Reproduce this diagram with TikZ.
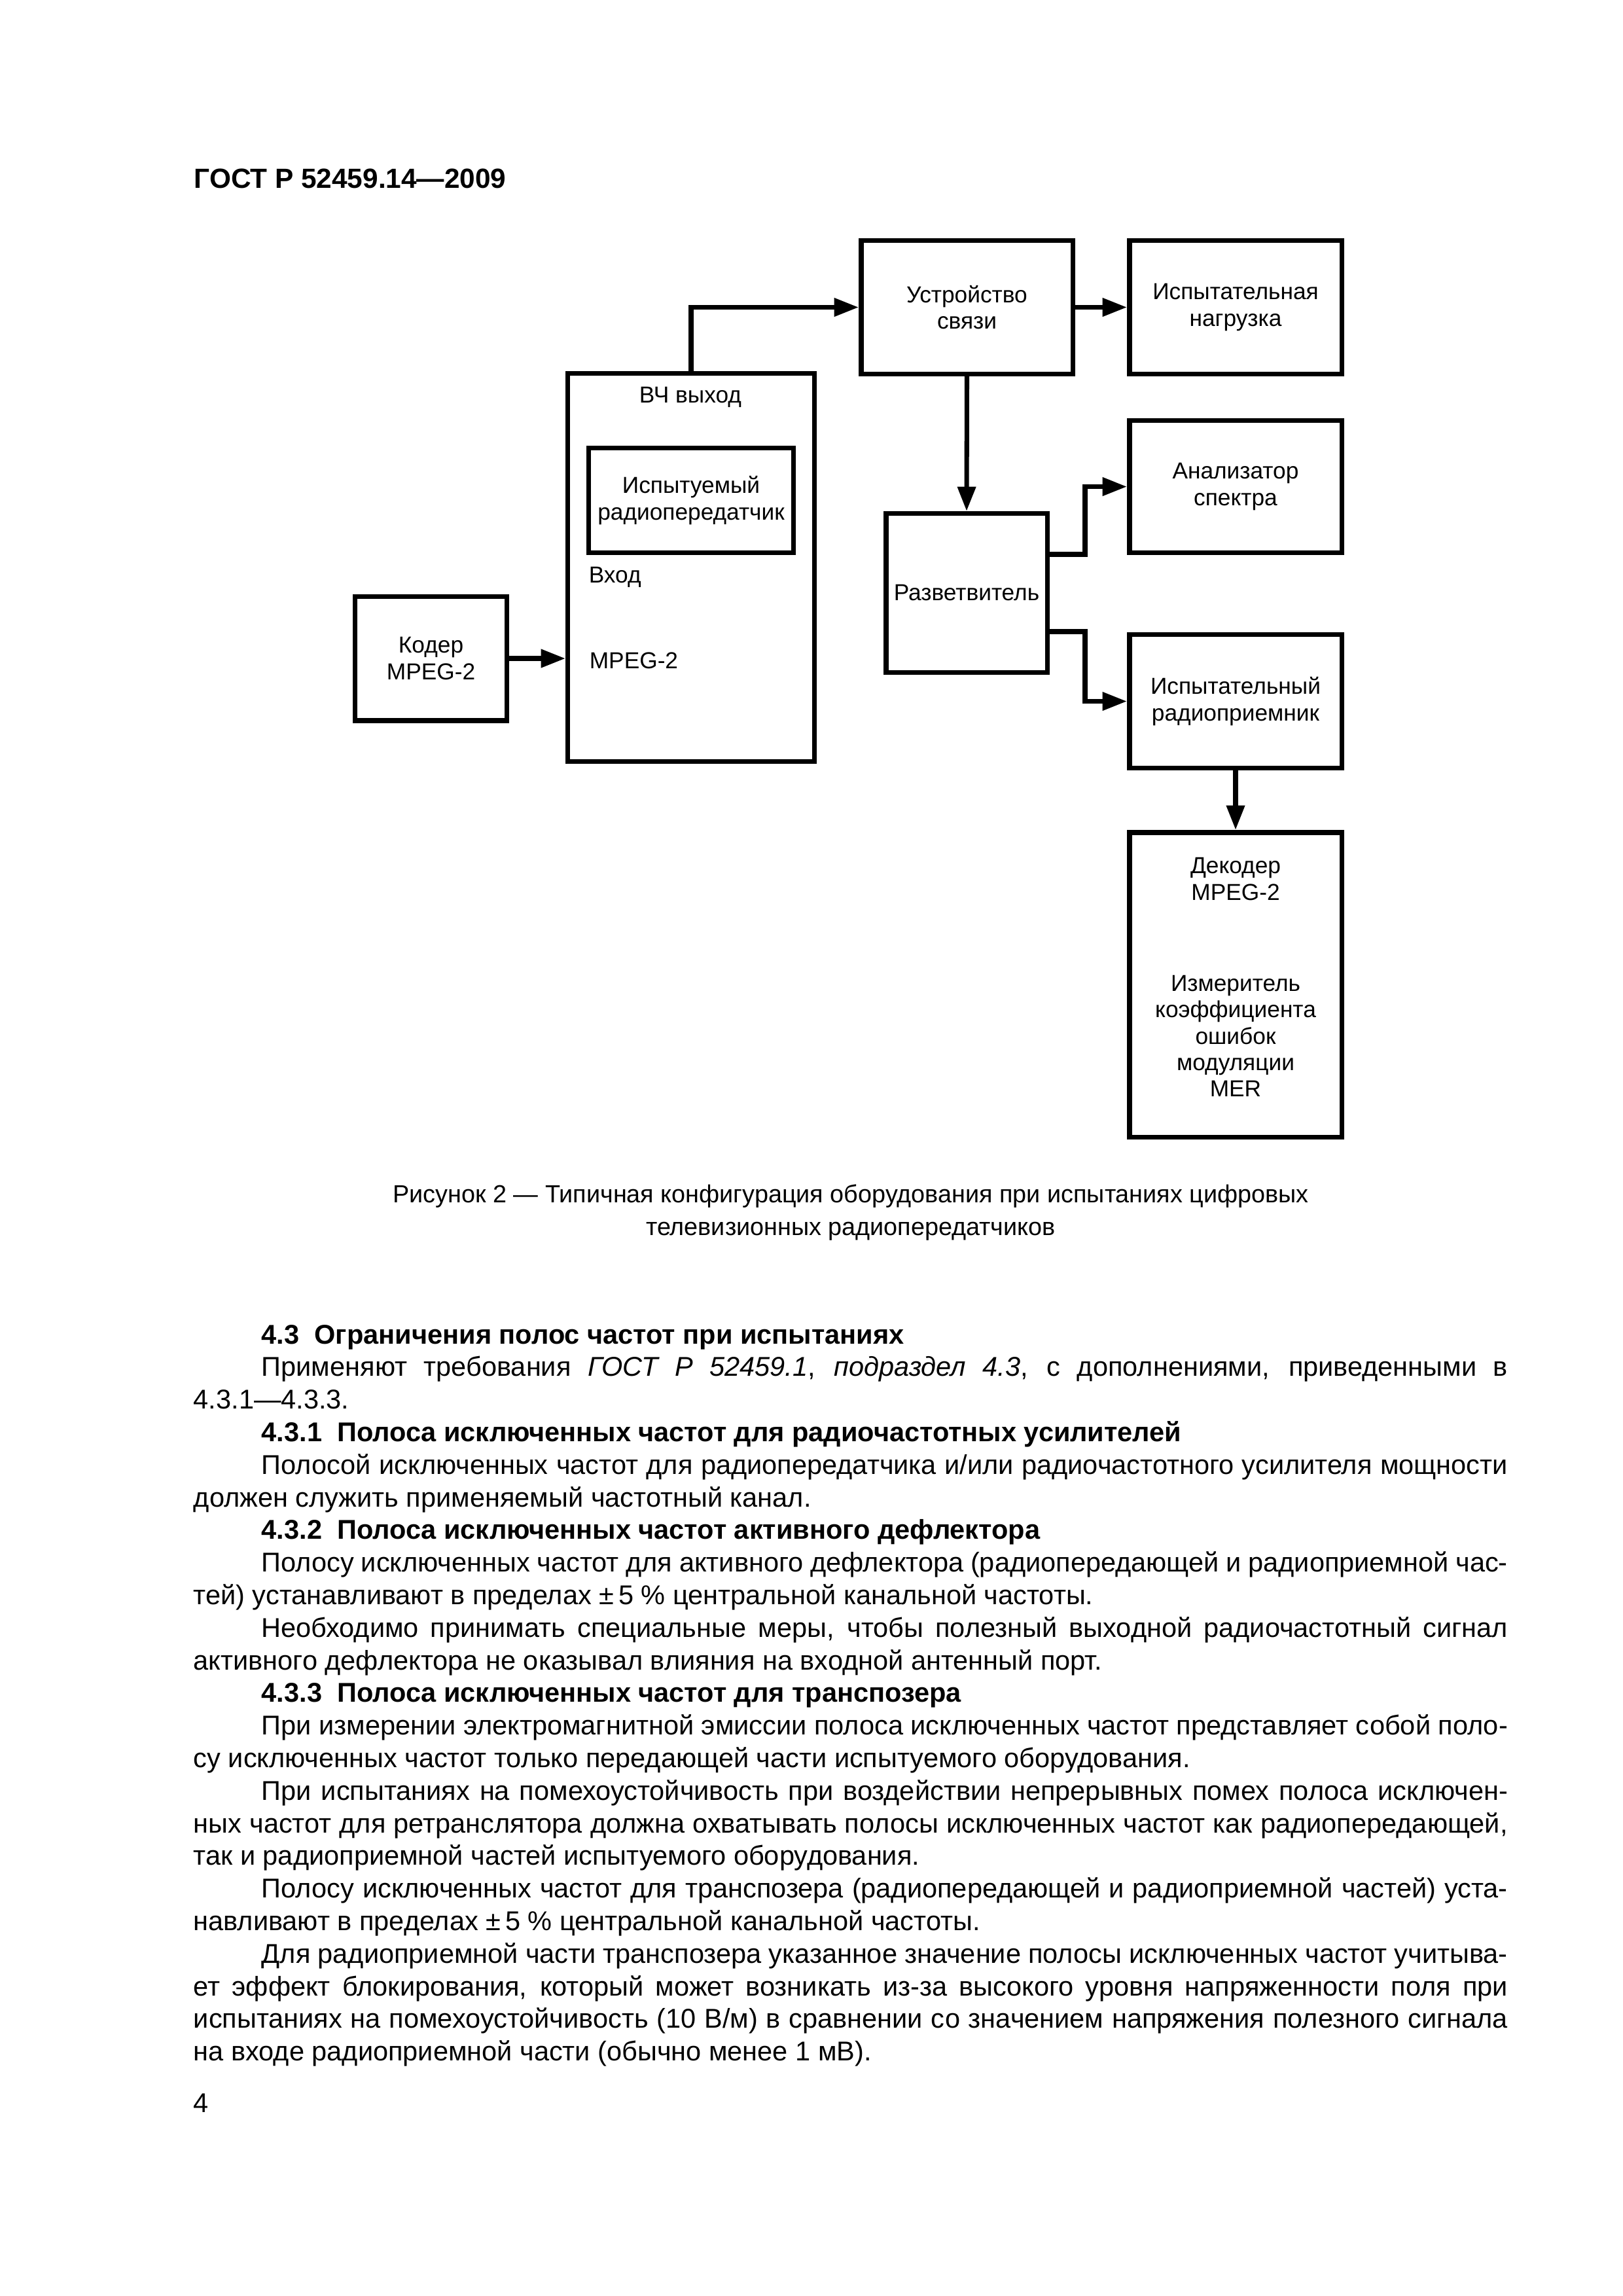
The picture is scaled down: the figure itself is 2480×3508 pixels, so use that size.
\documentclass[tikz,border=0pt]{standalone}
\usepackage{fontspec}
\setmainfont{Liberation Sans}
\usetikzlibrary{arrows.meta}
\newdimen\pxl \pxl=0.0846774mm
\newdimen\wind \wind=1904\pxl
\newdimen\wfull \wfull=2008\pxl
\newcommand\diagf{\fontsize{8.5}{9.7}\selectfont}
\newcommand\bodyf{\fontsize{10}{12}\selectfont}
\newcommand\capf{\fontsize{9.1}{12}\selectfont}
\newcommand\bodyy[1]{2053+49.8*#1}
% indented justified line
\newcommand\Ij[3]{\node[txt] (#1) at (399,\bodyy{#2}) {\makebox[\wind][s]{#3}};}
% indented natural line
\newcommand\In[3]{\node[txt] (#1) at (399,\bodyy{#2}) {#3};}
% left justified line
\newcommand\Lj[3]{\node[txt] (#1) at (295,\bodyy{#2}) {\makebox[\wfull][s]{#3}};}
% left natural line
\newcommand\Ln[3]{\node[txt] (#1) at (295,\bodyy{#2}) {#3};}
\tikzset{
  box/.style 2 args={draw, line width=1.8pt, inner sep=0pt, align=center, font=\diagf,
    minimum width={(#1-7.5)*\pxl}, minimum height={(#2-7.5)*\pxl}},
  lbl/.style={inner sep=0pt, align=center, font=\diagf},
  arr/.style={line width=1.7pt, -{Triangle[length=9pt,width=6.5pt]}},
  txt/.style={anchor=base west, inner sep=0pt, font=\bodyf}
}
\begin{document}
\begin{tikzpicture}[x=0.0846774mm, y=-0.0846774mm]
\useasboundingbox[fill=white] (0,0) rectangle (2480,3508);

% header
\node[anchor=base west, inner sep=0pt, font=\fontsize{10.2}{12}\selectfont\bfseries] (hdr) at (296,287) {ГОСТ Р 52459.14—2009};

% diagram boxes
\node[box={331}{211}] (ustr) at (1477.5,469.5) {Устройство\\связи};
\node[box={332}{211}] (load) at (1888,469.5) {Испытательная\\нагрузка};
\node[box={384}{600}] (tx) at (1056,867) {};
\node[box={320}{167}] (dut) at (1056,764.5) {Испытуемый\\радиопередатчик};
\node[box={239}{197}] (coder) at (658.5,1006) {Кодер\\MPEG-2};
\node[box={254}{250}] (split) at (1477,906) {Разветвитель};
\node[box={332}{209}] (anal) at (1888,743.5) {Анализатор\\спектра};
\node[box={332}{211}] (rx) at (1888,1071.5) {Испытательный\\радиоприемник};
\node[box={332}{473}] (dec) at (1888,1504.5) {};

% labels inside boxes
\node[lbl] (vch) at (1055,607) {ВЧ выход};
\node[lbl, anchor=west] (vhod) at (899,882) {Вход};
\node[lbl, anchor=west] (mpegin) at (900,1009) {MPEG-2};
\node[lbl] (decl) at (1888,1343) {Декодер\\MPEG-2};
\node[lbl] (merl) at (1888,1583) {Измеритель\\коэффициента\\ошибок\\модуляции\\MER};

% connectors
\draw[arr] (tx.north) |- (ustr.west);
\draw[arr] (ustr.east) -- (load.west);
\draw[arr] (ustr.south) -- (split.north);
\draw[arr] ([yshift=59*\pxl]split.east) -- ++(54,0) |- (anal.west);
\draw[arr] ([yshift=-59*\pxl]split.east) -- ++(54,0) |- (rx.west);
\draw[arr] (rx.south) -- (dec.north);
\draw[arr] (coder.east) -- (coder.east -| tx.west);

% caption
\node[anchor=base, inner sep=0pt, font=\capf] (cap1) at (1300,1837) {Рисунок 2 — Типичная конфигурация оборудования при испытаниях цифровых};
\node[anchor=base, inner sep=0pt, font=\capf] (cap2) at (1300,1887) {телевизионных радиопередатчиков};

% body text
\In{t0}{0}{\bfseries 4.3\ \ Ограничения полос частот при испытаниях}
\Ij{t1}{1}{Применяют требования \textit{ГОСТ Р 52459.1}, \textit{подраздел 4.3}, с дополнениями, приведенными в}
\Ln{t2}{2}{4.3.1—4.3.3.}
\In{t3}{3}{\bfseries 4.3.1\ \ Полоса исключенных частот для радиочастотных усилителей}
\Ij{t4}{4}{Полосой исключенных частот для радиопередатчика и/или радиочастотного усилителя мощности}
\Ln{t5}{5}{должен служить применяемый частотный канал.}
\In{t6}{6}{\bfseries 4.3.2\ \ Полоса исключенных частот активного дефлектора}
\Ij{t7}{7}{Полосу исключенных частот для активного дефлектора (радиопередающей и радиоприемной час-}
\Ln{t8}{8}{тей) устанавливают в пределах ±\,5~\% центральной канальной частоты.}
\Ij{t9}{9}{Необходимо принимать специальные меры, чтобы полезный выходной радиочастотный сигнал}
\Ln{t10}{10}{активного дефлектора не оказывал влияния на входной антенный порт.}
\In{t11}{11}{\bfseries 4.3.3\ \ Полоса исключенных частот для транспозера}
\Ij{t12}{12}{При измерении электромагнитной эмиссии полоса исключенных частот представляет собой поло-}
\Ln{t13}{13}{су исключенных частот только передающей части испытуемого оборудования.}
\Ij{t14}{14}{При испытаниях на помехоустойчивость при воздействии непрерывных помех полоса исключен-}
\Lj{t15}{15}{ных частот для ретранслятора должна охватывать полосы исключенных частот как радиопередающей,}
\Ln{t16}{16}{так и радиоприемной частей испытуемого оборудования.}
\Ij{t17}{17}{Полосу исключенных частот для транспозера (радиопередающей и радиоприемной частей) уста-}
\Ln{t18}{18}{навливают в пределах ±\,5~\% центральной канальной частоты.}
\Ij{t19}{19}{Для радиоприемной части транспозера указанное значение полосы исключенных частот учитыва-}
\Lj{t20}{20}{ет эффект блокирования, который может возникать из-за высокого уровня напряженности поля при}
\Lj{t21}{21}{испытаниях на помехоустойчивость (10 В/м) в сравнении со значением напряжения полезного сигнала}
\Ln{t22}{22}{на входе радиоприемной части (обычно менее 1 мВ).}

% page number
\node[txt] (pnum) at (295,3227) {4};
\end{tikzpicture}
\end{document}
